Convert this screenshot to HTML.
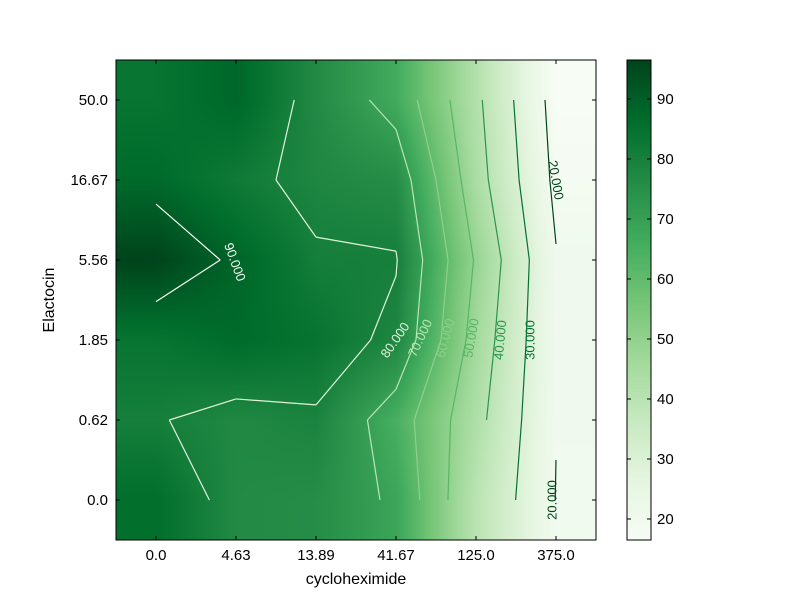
<!DOCTYPE html>
<html><head><meta charset="utf-8"><style>
body{margin:0;background:#fff;}
#wrap{position:relative;width:800px;height:600px;font-family:"Liberation Sans",sans-serif;}
canvas{position:absolute;}
svg{position:absolute;left:0;top:0;}
text{font-family:"Liberation Sans",sans-serif;}
</style></head><body>
<div id="wrap">
<canvas id="heat" width="480" height="480" style="left:116px;top:60px"></canvas>
<canvas id="cbar" width="24" height="480" style="left:627px;top:60px"></canvas>
<svg id="svg" width="800" height="600"></svg>
</div>
<script>
// data
const xLabels = ["0.0","4.63","13.89","41.67","125.0","375.0"];
const yLabels = ["50.0","16.67","5.56","1.85","0.62","0.0"]; // top to bottom
const row50  = [84, 88, 77, 66.5, 42, 16.5];
const row1667= [87.2, 82, 78, 76, 44, 18];
const row556 = [96.5, 88.4, 80.8, 80.5, 49, 20.5];
const row185 = [84, 87, 84.3, 78, 46, 20.5];
const row062 = [80.5, 77.5, 79, 65, 43, 20.2];
const row00  = [86, 77, 76, 68.5, 40, 19.8];
const grid = [row50,row1667,row556,row185,row062,row00];
const levels = [20,30,40,50,60,70,80,90];
const cbTicks = [20,30,40,50,60,70,80,90];

const L=116,T=60,W=480,H=480,N=6,CELL=80;
let vmin=Infinity,vmax=-Infinity;
grid.forEach(r=>r.forEach(v=>{vmin=Math.min(vmin,v);vmax=Math.max(vmax,v);}));
const stops=["#f7fcf5","#e5f5e0","#c7e9c0","#a1d99b","#74c476","#41ab5d","#238b45","#006d2c","#00441b"].map(h=>[parseInt(h.slice(1,3),16),parseInt(h.slice(3,5),16),parseInt(h.slice(5,7),16)]);
function cmap(t){t=Math.max(0,Math.min(1,t));const f=t*8,i=Math.min(7,Math.floor(f)),u=f-i;return stops[i].map((c,k)=>Math.round(c+(stops[i+1][k]-c)*u));}
const xs=c=>L+CELL*(c+0.5), ys=r=>T+CELL*(r+0.5);

// heatmap
const ctx=document.getElementById('heat').getContext('2d');
const img=ctx.createImageData(W,H);
for(let py=0;py<H;py++){let gy=Math.max(0,Math.min(N-1,(py+0.5)/CELL-0.5));let r0=Math.min(N-2,Math.floor(gy)),fy=gy-r0;
 for(let px=0;px<W;px++){let gx=Math.max(0,Math.min(N-1,(px+0.5)/CELL-0.5));let c0=Math.min(N-2,Math.floor(gx)),fx=gx-c0;
  const v=grid[r0][c0]*(1-fx)*(1-fy)+grid[r0][c0+1]*fx*(1-fy)+grid[r0+1][c0]*(1-fx)*fy+grid[r0+1][c0+1]*fx*fy;
  const col=cmap((v-vmin)/(vmax-vmin));const k=(py*W+px)*4;img.data[k]=col[0];img.data[k+1]=col[1];img.data[k+2]=col[2];img.data[k+3]=255;}}
ctx.putImageData(img,0,0);
const cb=document.getElementById('cbar').getContext('2d');
for(let py=0;py<480;py++){const c=cmap(1-(py+0.5)/480);cb.fillStyle=`rgb(${c})`;cb.fillRect(0,py,24,1);}

const svg=document.getElementById('svg');const NS="http://www.w3.org/2000/svg";
function el(tag,attrs,parent){const e=document.createElementNS(NS,tag);for(const k in attrs)e.setAttribute(k,attrs[k]);(parent||svg).appendChild(e);return e;}

// contours (marching squares)
function lvlColor(lv){const c=cmap(1-(lv-levels[0])/(levels[levels.length-1]-levels[0]));return `rgb(${c})`;}
levels.forEach(lv=>{
 const g=el('g',{stroke:lvlColor(lv),'stroke-width':1.2,fill:'none'});
 
 
 for(let r=0;r<N-1;r++)for(let c=0;c<N-1;c++){
  const corners=[[r,c],[r,c+1],[r+1,c+1],[r+1,c]];
  const pts=[];
  for(let e=0;e<4;e++){const a=corners[e],b=corners[(e+1)%4];const va=grid[a[0]][a[1]],vb=grid[b[0]][b[1]];
   if((va-lv)*(vb-lv)<0){const t=(lv-va)/(vb-va);pts.push([xs(a[1]+(b[1]-a[1])*t),ys(a[0]+(b[0]-a[0])*t)]);}}
  for(let i=0;i+1<pts.length;i+=2){el('line',{x1:pts[i][0],y1:pts[i][1],x2:pts[i+1][0],y2:pts[i+1][1]},g);}
 }
});
// contour labels
const labs=[[90,235,262,70],[80,395,340,-55],[70,420,338,-65],[60,445,338,-75],[50,471,338,-80],[40,500,340,-85],[30,530,340,-90],[20,556,180,80],[20,552,500,-90]];
labs.forEach(([lv,x,y,a])=>{const t=el('text',{x:x,y:y,'font-size':13,fill:lvlColor(lv),'text-anchor':'middle','dominant-baseline':'central',transform:`rotate(${a} ${x} ${y})`});t.textContent=lv.toFixed(3);
 
 });

// axes frame & ticks
el('rect',{x:L,y:T,width:W,height:H,fill:'none',stroke:'#000','stroke-width':1});
xLabels.forEach((s,i)=>{const x=xs(i);el('line',{x1:x,y1:T+H,x2:x,y2:T+H-4,stroke:'#000'});el('line',{x1:x,y1:T,x2:x,y2:T+4,stroke:'#000'});
 const t=el('text',{x:x,y:T+H+20,'font-size':15,'text-anchor':'middle'});t.textContent=s;
 
 });
yLabels.forEach((s,i)=>{const y=ys(i);el('line',{x1:L,y1:y,x2:L+4,y2:y,stroke:'#000'});el('line',{x1:L+W,y1:y,x2:L+W-4,y2:y,stroke:'#000'});
 const t=el('text',{x:L-8,y:y+5,'font-size':15,'text-anchor':'end'});t.textContent=s;
 
 });
const xt=el('text',{x:356,y:584,'font-size':16,'text-anchor':'middle'});xt.textContent='cycloheximide';


const yt=el('text',{x:54,y:300,'font-size':16,'text-anchor':'middle',transform:'rotate(-90 54 300)'});yt.textContent='Elactocin';


// colorbar
el('rect',{x:627,y:60,width:24,height:480,fill:'none',stroke:'#000'});
cbTicks.forEach(v=>{const y=540-(v-vmin)/(vmax-vmin)*480;el('line',{x1:627,y1:y,x2:631,y2:y,stroke:'#000'});el('line',{x1:651,y1:y,x2:647,y2:y,stroke:'#000'});
 const t=el('text',{x:657,y:y+5,'font-size':15});t.textContent=v;
 
 });
</script>
</body></html>
